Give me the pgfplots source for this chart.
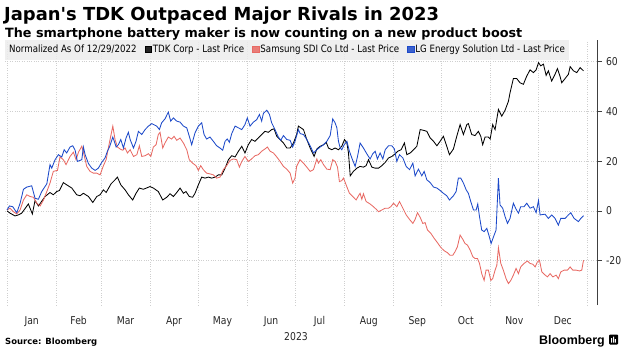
\documentclass[border=0pt]{standalone}
\usepackage{pgfplots}
\pgfplotsset{compat=1.18}
\usepackage{fontspec}
\setmainfont{DejaVu Sans}[Ligatures=TeXOff]
\newfontfamily\chartfont{DejaVu Sans}[FakeStretch=0.86]
\newfontfamily\logofont{Liberation Sans}
\definecolor{tdk}{HTML}{000000}
\definecolor{sdi}{HTML}{E86A64}
\definecolor{lge}{HTML}{1C49C9}
\definecolor{legbg}{HTML}{ECECEC}
\definecolor{gridc}{HTML}{CFCFCF}
\begin{document}
\begin{tikzpicture}[x=1bp,y=1bp]
\useasboundingbox (0,0) rectangle (628,353);
\node[anchor=base west, inner sep=0, font=\bfseries\fontsize{18}{20}\selectfont] at (4,333) {Japan's TDK Outpaced Major Rivals in 2023};
\node[anchor=base west, inner sep=0, font=\bfseries\fontsize{12.8}{14}\selectfont] at (5,316) {The smartphone battery maker is now counting on a new product boost};
\begin{axis}[
  at={(5bp,48bp)}, anchor=south west,
  scale only axis, width=592bp, height=265bp,
  xmin=-1.3, xmax=371, ymin=-37.8, ymax=68.7,
  axis x line*=bottom, axis y line*=right,
  x axis line style={draw=none},
  y axis line style={draw=black!75, line width=0.8pt},
  xtick={15.5,45,74.5,105,135.5,166,196.5,227.5,258,288.5,319,349.5},
  xticklabels={Jan,Feb,Mar,Apr,May,Jun,Jul,Aug,Sep,Oct,Nov,Dec},
  minor xtick={0,31,59,90,120,151,181,212,243,273,304,334,365},
  xmajorgrids=false, xminorgrids=true, ymajorgrids=true,
  major x tick style={draw=none}, minor x tick style={draw=none},
  ytick={-20,0,20,40,60},
  tick align=outside, major tick length=5bp,
  y tick style={draw=black!75, line width=0.7pt},
  major grid style={dotted, gridc, line width=0.6pt},
  minor grid style={dotted, gridc, line width=0.6pt},
  /pgf/number format/assume math mode=true,
  ticklabel style={font=\chartfont\fontsize{10.8}{12}\selectfont, text=black!85},
  xticklabel style={anchor=north, text height=7.8bp, text depth=2bp, yshift=-3bp},
  yticklabel style={anchor=west, xshift=0.5bp},
  legend style={at={(0,1)}, anchor=north west, fill=legbg, fill opacity=0.85, text opacity=1, draw=none,
    font=\chartfont\fontsize{10.1}{11}\selectfont, legend columns=-1,
    inner xsep=3bp, inner ysep=3bp,
    nodes={inner xsep=1bp, inner ysep=2bp, text height=7.6bp, text depth=2.4bp},
    /tikz/every even column/.append style={column sep=7bp}},
  legend image code/.code={\fill[#1] (0bp,-2.6bp) rectangle (6.4bp,3.8bp);},
]
\addlegendimage{empty legend}
\addlegendentry{Normalized As Of 12/29/2022}
\addplot[color=tdk, line width=0.85pt] coordinates {
(0,0) (1.9,-0.9) (5.0,-2.0) (7.1,-1.6) (9.2,-0.9) (13.4,2.8) (15.9,-1.2) (17.6,4.2) (19.7,2.0) (23.9,5.8) (27.0,7.4) (29.1,6.5) (31.2,7.8) (32.9,8.2) (35.4,11.4) (37.5,10.5) (40.7,9.2) (43.8,6.5) (45.9,6.1) (48.0,7.1) (51.2,5.8) (53.9,3.4) (56.4,5.8) (58.5,6.5) (60.6,8.5) (62.3,7.4) (65.4,10.9) (67.9,12.5) (69.4,13.6) (71.5,10.5) (74.2,8.5) (76.3,6.5) (79.0,4.4) (81.1,7.1) (83.2,9.2) (85.7,8.7) (89.9,9.8) (92.0,9.2) (95.1,7.8)
(97.9,4.4) (100.4,5.5) (102.5,6.9) (104.6,5.8) (106.7,7.4) (108.8,9.2) (110.9,7.1) (112.5,7.8) (114.6,5.8) (116.7,5.5) (118.2,7.1) (120.3,10.5) (122.4,13.6) (124.5,13.2) (126.6,13.6) (128.7,13.2) (130.8,13.6) (132.9,14.5) (135.0,14.5) (137.1,17.2) (139.2,20.6) (141.3,22.2) (143.4,21.7) (145.5,24.0) (147.6,26.0) (149.6,23.3) (151.7,26.6) (153.8,28.7) (155.9,28.0) (158.0,29.3) (160.1,30.7) (162.2,32.0) (164.3,31.6) (166.4,32.7) (167.9,33.0) (169.6,30.0) (171.7,28.7) (173.8,27.3) (175.9,25.3) (178.0,25.3) (180.1,27.3) (182.1,30.7) (183.2,34.1)
(186.4,32.7) (188.5,28.7) (190.6,25.3) (193.1,21.9) (194.8,24.9) (196.9,26.0) (199.0,26.6) (200.7,27.6) (202.1,25.3) (204.2,24.6) (206.3,25.3) (208.4,24.6) (210.5,26.0) (212.2,28.7) (213.7,27.3) (214.7,23.3) (215.8,14.1) (217.8,15.9) (220.0,17.2) (222.0,17.9) (224.1,17.6) (225.8,18.2) (227.3,20.6) (229.4,17.6) (231.5,17.2) (233.6,17.2) (235.7,18.2) (237.8,19.5) (239.9,21.3) (242.0,21.9) (244.1,23.0) (245.7,24.0) (247.8,24.6) (249.9,27.3) (251.4,22.6) (253.5,23.3) (255.6,24.6) (257.7,26.0) (259.8,32.7) (261.9,32.4) (264.0,32.0) (266.1,29.3) (268.2,28.0) (270.3,26.2) (271.9,27.6) (274.4,30.0) (276.5,26.0) (278.2,22.6)
(280.7,24.9) (282.8,30.0) (284.9,34.7) (287.0,30.7) (289.1,34.7) (290.1,35.1) (292.2,30.7) (294.3,30.3) (296.4,32.0) (297.9,30.0) (299.1,26.6) (300.6,29.7) (302.7,29.7) (303.8,28.9) (305.4,34.7) (306.9,32.7) (309.0,40.8) (311.1,38.1) (313.2,40.5) (315.3,44.1) (316.3,47.5) (318.4,53.2) (320.5,53.2) (322.6,51.5) (324.7,50.9) (326.8,54.2) (328.9,56.7) (331.0,55.6) (332.7,56.7) (334.2,59.6) (335.6,58.3) (337.3,59.0) (339.0,54.5) (340.4,56.3) (342.5,52.2) (344.6,54.9) (346.1,57.2) (347.8,54.0) (348.8,51.5) (350.9,53.2) (353.0,54.9) (354.1,58.0) (356.2,56.3) (358.3,55.6) (360.4,57.6) (362.5,56.3)
};
\addlegendentry{TDK Corp - Last Price}
\addplot[color=sdi, line width=0.85pt] coordinates {
(0,0.4) (1.9,1.1) (4.0,-0.3) (6.1,-1.2) (8.2,0.4) (10.3,4.4) (12.4,6.5) (14.5,5.8) (16.6,5.5) (18.7,3.1) (20.8,2.0) (22.9,4.4) (25.0,7.8) (27.0,11.2) (29.1,15.9) (31.7,16.3) (33.3,21.7) (35.4,20.6) (37.1,18.6) (39.6,21.9) (41.7,23.6) (43.4,20.6) (44.9,23.6) (47.0,26.0) (48.4,22.6) (50.1,17.9) (52.2,15.9) (54.3,15.2) (56.4,15.2) (58.5,14.5) (60.6,18.2) (62.3,20.6) (63.7,25.3) (65.4,30.7) (66.5,34.1) (67.9,28.7) (69.4,25.7) (71.1,24.9) (72.7,24.4) (74.2,25.3) (75.7,23.3) (77.4,24.6) (79.5,21.9) (81.6,22.6) (83.2,26.2) (84.7,21.9) (86.8,22.2) (88.9,23.0) (90.4,21.9) (92.0,25.7)
(93.7,26.6) (95.1,30.7) (96.2,31.6) (97.9,25.3) (99.3,27.3) (101.4,29.7) (103.5,28.9) (105.0,30.0) (106.7,28.4) (108.8,29.3) (110.9,27.3) (113.0,24.6) (114.6,20.6) (116.7,19.2) (118.8,18.2) (120.3,16.3) (121.8,18.2) (123.4,16.6) (125.5,15.2) (127.6,14.9) (129.7,14.5) (131.8,13.2) (133.9,13.6) (136.0,16.6) (138.1,18.2) (140.2,20.3) (142.3,20.9) (144.4,20.6) (146.1,17.6) (147.6,19.9) (149.6,21.9) (151.7,19.9) (153.8,20.9) (155.9,22.2) (158.0,22.6) (160.1,24.0) (162.2,24.9) (163.7,25.7) (165.4,24.0) (167.5,23.3) (169.6,21.7) (171.7,19.9) (173.8,17.9) (175.9,16.8) (178.0,15.2) (179.6,11.2) (181.1,13.2) (182.1,17.9) (184.2,20.6)
(186.4,19.2) (188.5,17.6) (190.6,15.9) (192.7,16.6) (194.8,20.9) (195.8,19.2) (197.3,20.6) (199.0,18.6) (201.1,16.8) (203.2,16.6) (204.8,20.6) (206.3,19.9) (207.8,17.6) (209.0,11.8) (210.5,12.2) (211.6,13.2) (213.2,10.5) (215.3,7.1) (217.4,5.8) (219.5,4.4) (221.0,6.1) (222.0,7.1) (223.1,4.7) (224.1,6.9) (225.8,3.8) (228.3,2.8) (230.4,1.7) (232.1,0.7) (233.6,-0.3) (235.7,0.4) (237.8,1.1) (239.9,1.1) (241.3,1.7) (243.0,3.1) (245.1,1.7) (246.8,3.8) (248.9,1.1) (251.0,-1.6) (253.1,-3.4) (255.2,-5.0) (256.6,-3.4) (258.1,-0.7) (259.8,-2.6) (261.4,-5.0) (262.9,-4.7) (264.4,-7.7) (266.5,-9.0) (268.6,-11.0) (270.7,-12.8) (272.8,-14.7) (274.9,-16.0) (277.0,-16.8) (278.6,-17.8)
(280.3,-17.8) (281.7,-16.4) (283.2,-14.4) (284.9,-9.7) (286.6,-11.4) (288.0,-13.1) (289.5,-13.7) (291.2,-15.7) (292.9,-18.4) (294.3,-19.1) (295.8,-19.1) (297.1,-21.1) (298.5,-25.2) (300.0,-27.9) (301.2,-23.8) (302.7,-23.8) (304.2,-27.9) (305.4,-27.2) (306.9,-23.8) (308.0,-21.8) (309.0,-14.8) (310.5,-21.1) (312.1,-23.8) (313.8,-27.2) (315.3,-29.2) (316.8,-27.9) (318.4,-25.8) (320.1,-23.1) (321.6,-25.2) (323.0,-22.5) (325.1,-21.1) (327.2,-20.1) (328.9,-21.1) (330.6,-21.4) (332.1,-22.5) (333.5,-20.5) (334.8,-19.8) (336.3,-24.5) (337.7,-25.4) (339.8,-26.5) (341.5,-25.2) (343.2,-26.5) (345.3,-25.8) (346.7,-27.2) (348.2,-24.5) (350.3,-23.8) (352.4,-23.8) (354.1,-22.5) (355.8,-23.8) (357.9,-23.8) (360.0,-24.1) (361.4,-23.8) (362.5,-19.8)
};
\addlegendentry{Samsung SDI Co Ltd - Last Price}
\addplot[color=lge, line width=0.85pt] coordinates {
(0,0.4) (1.5,2.0) (3.6,1.7) (6.1,-0.7) (8.2,3.1) (10.3,8.7) (12.4,9.6) (15.5,10.1) (17.6,5.1) (19.7,4.7) (21.8,7.8) (25.0,10.9) (27.0,18.6) (28.1,17.2) (30.2,20.6) (32.3,22.6) (34.4,21.7) (35.9,24.6) (37.5,23.3) (39.6,25.7) (41.3,26.2) (42.8,24.4) (44.2,19.9) (47.0,20.6) (48.0,25.7) (49.1,22.6) (51.2,19.0) (53.3,17.2) (55.4,16.3) (57.4,17.2) (59.5,19.5) (61.6,21.3) (63.1,24.0) (64.4,25.7) (66.5,29.7) (68.6,25.7) (70.0,26.6) (71.5,28.7) (73.2,25.3) (74.8,29.3) (76.3,31.6) (77.4,28.7) (79.5,25.3) (81.1,28.0) (82.6,32.0) (84.7,30.7) (86.8,32.7) (88.9,34.1) (91.0,35.1)
(94.1,34.1) (95.8,32.7) (97.2,35.4) (99.3,37.0) (101.4,39.7) (102.9,36.1) (104.6,37.4) (106.7,36.1) (108.8,35.7) (110.9,34.1) (113.0,33.4) (114.6,30.0) (116.1,26.6) (118.2,31.4) (120.3,34.1) (122.4,35.4) (123.9,30.7) (125.5,28.9) (127.6,29.7) (129.7,28.0) (131.8,26.2) (133.9,25.3) (135.6,24.4) (137.1,28.0) (138.5,28.9) (139.8,27.6) (141.3,31.1) (143.4,34.1) (145.5,33.4) (147.6,32.7) (149.6,34.7) (151.1,37.4) (152.8,34.1) (154.9,35.7) (157.0,36.7) (158.7,38.8) (160.1,36.1) (161.2,39.2) (163.3,40.5) (165.0,38.8) (166.4,35.4) (168.5,32.7) (170.6,29.7) (172.1,28.4) (173.8,30.3) (175.9,28.7) (178.0,28.4) (179.6,25.7) (181.1,28.0) (183.2,32.7)
(184.3,31.1) (186.4,30.7) (188.5,28.7) (190.6,26.2) (192.7,23.3) (194.8,24.6) (196.9,25.7) (199.0,26.6) (201.1,28.0) (203.2,30.3) (204.8,37.0) (206.3,35.4) (207.4,33.4) (208.4,28.0) (209.5,25.3) (210.5,24.6) (212.0,26.6) (213.7,28.0) (215.3,24.0) (216.8,21.3) (218.9,17.9) (220.4,21.9) (222.0,27.3) (224.1,25.3) (226.2,23.0) (228.3,20.9) (230.0,23.0) (231.5,24.0) (232.9,20.9) (234.6,23.3) (236.3,20.9) (237.8,24.6) (239.9,26.2) (242.0,26.2) (243.6,24.9) (245.1,19.9) (246.8,22.6) (248.9,21.3) (251.0,17.9) (253.1,16.6) (255.2,19.2) (256.6,14.1) (258.7,16.8) (260.8,14.1) (262.3,15.9) (264.0,12.5) (266.1,11.4) (268.2,9.6) (270.3,9.2) (272.4,8.2) (274.4,7.1) (276.5,6.1) (278.2,4.4)
(280.7,6.1) (282.4,7.8) (283.8,13.2) (285.3,13.2) (287.0,11.2) (288.7,8.5) (290.1,7.1) (291.6,3.8) (293.3,0.4) (295.0,0.4) (296.0,2.8) (297.1,-2.3) (298.5,-7.7) (300.0,-8.3) (301.7,-7.0) (303.3,-10.4) (304.4,-13.1) (305.9,-10.4) (307.5,-7.7) (309.0,13.2) (310.0,2.4) (311.7,1.1) (313.2,-2.3) (314.7,-5.0) (316.3,-3.0) (318.4,3.1) (320.1,0.7) (321.6,-0.9) (323.0,1.7) (325.1,1.7) (326.8,3.1) (328.9,1.1) (331.0,1.7) (332.7,-0.7) (334.2,4.2) (335.2,-1.6) (338.3,-1.3) (340.4,-3.0) (342.5,-1.6) (344.6,-3.0) (346.7,-5.7) (348.2,-3.0) (350.9,-3.0) (353.0,-1.6) (354.5,-0.7) (356.6,-3.0) (359.3,-4.3) (360.8,-3.0) (362.5,-1.9)
};
\addlegendentry{LG Energy Solution Ltd - Last Price}
\end{axis}
\node[font=\chartfont\fontsize{10.8}{12}\selectfont, text=black!85] at (296,16) {2023};
\node[anchor=base west, inner sep=0, font=\bfseries\fontsize{8.5}{10}\selectfont] at (5,9) {Source: Bloomberg};
\node[anchor=base east, inner sep=0, font=\logofont\bfseries\fontsize{12.5}{14}\selectfont] at (605,9) {Bloomberg};
\fill[black, rounded corners=1bp] (609,8.5) rectangle (618,18.5);
\fill[white] (611.2,10.5) rectangle (612.2,15) (613,10.5) rectangle (614,16.5) (614.8,10.5) rectangle (615.8,14);
\end{tikzpicture}
\end{document}
